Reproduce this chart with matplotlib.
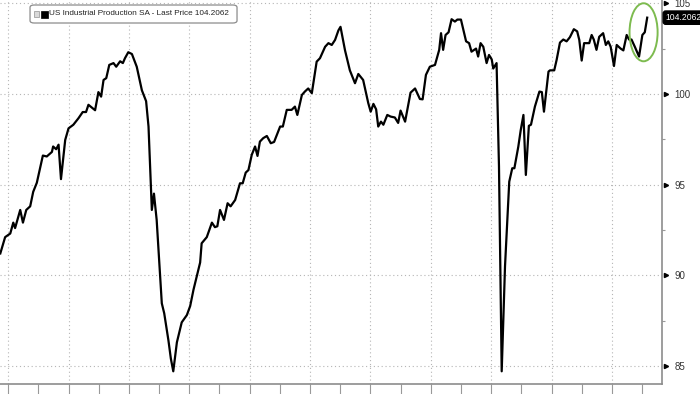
import numpy as np
import matplotlib.pyplot as plt
from matplotlib.patches import FancyBboxPatch, Rectangle, Ellipse
from matplotlib.ticker import MultipleLocator
import matplotlib.transforms as mtransforms

# monthly-ish readings, decimal years vs index level
years = [2003.74, 2003.90, 2004.07, 2004.17, 2004.23, 2004.40, 2004.49, 2004.60, 2004.73, 2004.83,
         2004.95, 2005.15, 2005.28, 2005.45, 2005.49, 2005.59, 2005.67, 2005.75, 2005.89, 2006.00,
         2006.16, 2006.33, 2006.47, 2006.58, 2006.66, 2006.88, 2006.99, 2007.08, 2007.16, 2007.25,
         2007.35, 2007.49, 2007.58, 2007.71, 2007.80, 2007.87, 2007.98, 2008.10, 2008.26, 2008.43,
         2008.57, 2008.65, 2008.76, 2008.83, 2008.92, 2009.09, 2009.17, 2009.31, 2009.39, 2009.47,
         2009.59, 2009.75, 2009.92, 2010.03, 2010.14, 2010.30, 2010.36, 2010.41, 2010.58, 2010.75,
         2010.85, 2010.93, 2011.02, 2011.15, 2011.27, 2011.37, 2011.52, 2011.68, 2011.77, 2011.87,
         2011.96, 2012.07, 2012.18, 2012.26, 2012.34, 2012.45, 2012.57, 2012.70, 2012.81, 2013.01,
         2013.10, 2013.23, 2013.39, 2013.50, 2013.58, 2013.73, 2013.83, 2013.94, 2014.06, 2014.22,
         2014.33, 2014.50, 2014.61, 2014.72, 2014.83, 2014.94, 2015.01, 2015.16, 2015.32, 2015.49,
         2015.60, 2015.76, 2015.93, 2016.01, 2016.10, 2016.19, 2016.26, 2016.35, 2016.43, 2016.56,
         2016.67, 2016.81, 2016.92, 2017.00, 2017.15, 2017.33, 2017.48, 2017.64, 2017.73, 2017.84,
         2017.97, 2018.14, 2018.28, 2018.34, 2018.41, 2018.49, 2018.59, 2018.69, 2018.80, 2018.88,
         2019.00, 2019.17, 2019.27, 2019.35, 2019.50, 2019.57, 2019.65, 2019.74, 2019.85, 2019.93,
         2020.02, 2020.07, 2020.18, 2020.26, 2020.35, 2020.46, 2020.60, 2020.70, 2020.77, 2020.90,
         2020.98, 2021.07, 2021.15, 2021.25, 2021.32, 2021.45, 2021.60, 2021.68, 2021.75, 2021.90,
         2021.95, 2022.09, 2022.17, 2022.28, 2022.39, 2022.50, 2022.61, 2022.74, 2022.85, 2022.92,
         2023.00, 2023.08, 2023.18, 2023.25, 2023.33, 2023.40, 2023.49, 2023.58, 2023.71, 2023.80,
         2023.88, 2023.96, 2024.07, 2024.16, 2024.29, 2024.38, 2024.49, 2024.57, 2024.65, 2024.76,
         2024.90, 2025.01, 2025.09, 2025.17]
ip = [91.2, 92.1, 92.3, 92.9, 92.6, 93.6, 92.9, 93.6, 93.8, 94.6,
      95.1, 96.6, 96.55, 96.8, 97.1, 96.95, 97.2, 95.3, 97.46, 98.1,
      98.3, 98.66, 99.0, 99.0, 99.4, 99.1, 100.1, 99.85, 100.77, 100.87,
      101.6, 101.7, 101.5, 101.8, 101.7, 101.97, 102.3, 102.2, 101.5, 100.2,
      99.6, 98.2, 93.6, 94.5, 93.05, 88.45, 87.9, 86.4, 85.4, 84.7,
      86.3, 87.4, 87.8, 88.3, 89.2, 90.3, 90.7, 91.76, 92.1, 92.9,
      92.65, 92.7, 93.6, 93.05, 93.97, 93.8, 94.15, 95.07, 95.07, 95.66,
      95.8, 96.64, 97.1, 96.58, 97.37, 97.56, 97.68, 97.28, 97.35, 98.2,
      98.2, 99.12, 99.12, 99.3, 98.84, 99.94, 100.13, 100.3, 100.04, 101.78,
      101.97, 102.6, 102.8, 102.7, 102.98, 103.5, 103.7, 102.4, 101.3, 100.59,
      101.1, 100.77, 99.49, 99.02, 99.45, 99.15, 98.2, 98.47, 98.3, 98.84,
      98.75, 98.7, 98.4, 99.08, 98.47, 100.07, 100.3, 99.72, 99.7, 101.05,
      101.5, 101.6, 102.43, 103.35, 102.43, 103.25, 103.4, 104.12, 103.99, 104.1,
      104.1, 102.9, 102.8, 102.33, 102.5, 102.06, 102.8, 102.6, 101.7, 102.15,
      101.9, 101.4, 101.7, 96.0, 84.7, 90.5, 95.16, 95.9, 95.9, 97.09,
      98.0, 98.84, 95.53, 98.24, 98.3, 99.3, 100.13, 100.1, 99.02, 101.23,
      101.3, 101.3, 101.88, 102.83, 103.0, 102.9, 103.13, 103.57, 103.45, 102.98,
      101.84, 102.8, 102.8, 102.8, 103.25, 103.0, 102.43, 103.15, 103.35, 102.7,
      102.9, 102.6, 101.54, 102.7, 102.5, 102.4, 103.25, 103.0, 103.0, 102.6,
      102.06, 103.25, 103.4, 104.2062]

legend_label = "US Industrial Production SA - Last Price 104.2062"
last_price = "104.2062"
y_ticks = [85, 90, 95, 100, 105]

plt.rcParams["font.family"] = ["Liberation Sans", "DejaVu Sans"]

fig = plt.figure(figsize=(7, 3.94), dpi=100)
ax = fig.add_axes([0.0, 0.0254, 0.9457, 0.9746])

grid_kw = dict(color="#b5b5b5", lw=0.8, ls=(0, (1, 2.5)), zorder=0)
for y in y_ticks:
    ax.axhline(y, **grid_kw)
for yr in range(2004, 2026, 2):
    ax.axvline(yr, **grid_kw)

ax.plot(years, ip, color="black", lw=1.6, zorder=3)

ax.set_xlim(2003.73, 2025.66)
ax.set_ylim(84.0, 105.18)

ax.xaxis.set_major_locator(MultipleLocator(1))
ax.tick_params(axis="x", direction="out", length=9, width=0.8, color="#999999",
               labelbottom=False)
ax.yaxis.tick_right()
ax.set_yticks(y_ticks)
ax.yaxis.set_minor_locator(MultipleLocator(2.5))
ax.tick_params(axis="y", which="major", direction="out", length=0, pad=9,
               labelsize=7, labelcolor="#333333")
ax.tick_params(axis="y", which="minor", direction="out", length=2, width=0.8,
               color="#999999")

for s in ["left", "top"]:
    ax.spines[s].set_visible(False)
for s in ["right", "bottom"]:
    ax.spines[s].set_color("#8c8c8c")
    ax.spines[s].set_linewidth(1.2)

# Bloomberg style arrow markers at the major y ticks
trans = mtransforms.blended_transform_factory(ax.transAxes, ax.transData)
ax.plot([1.006] * len(y_ticks), y_ticks, ls="none", marker=">", ms=3.0,
        color="black", transform=trans, clip_on=False, zorder=5)

# last price tag
ax.text(1.005, float(ip[-1]), last_price, transform=trans, ha="left", va="center",
        fontsize=6.2, color="white", zorder=6, clip_on=False,
        bbox=dict(boxstyle="round,pad=0.25,rounding_size=0.3", fc="black", ec="black"))

# green highlight ellipse
ax.add_patch(Ellipse((2025.05, 103.4), width=0.93, height=3.2, fill=False,
                     ec="#7dbb4f", lw=1.4, zorder=4))

# legend box
fig.patches.append(FancyBboxPatch((0.0429, 0.9416), 0.2957, 0.0457,
                                  boxstyle="round,pad=0,rounding_size=0.006",
                                  transform=fig.transFigure, fc="white",
                                  ec="#8c8c8c", lw=0.9, zorder=10))
fig.patches.append(Rectangle((0.0486, 0.9565), 0.0071, 0.0152, transform=fig.transFigure,
                             fc="#d9d9d9", ec="#a0a0a0", lw=0.6, zorder=11))
fig.patches.append(Rectangle((0.0586, 0.9540), 0.0100, 0.0190, transform=fig.transFigure,
                             fc="black", ec="black", lw=0.5, zorder=11))
fig.text(0.0707, 0.9645, legend_label, fontsize=5.85, color="#222222", va="center",
         ha="left", zorder=12)

fig.savefig("out.png", dpi=100)
